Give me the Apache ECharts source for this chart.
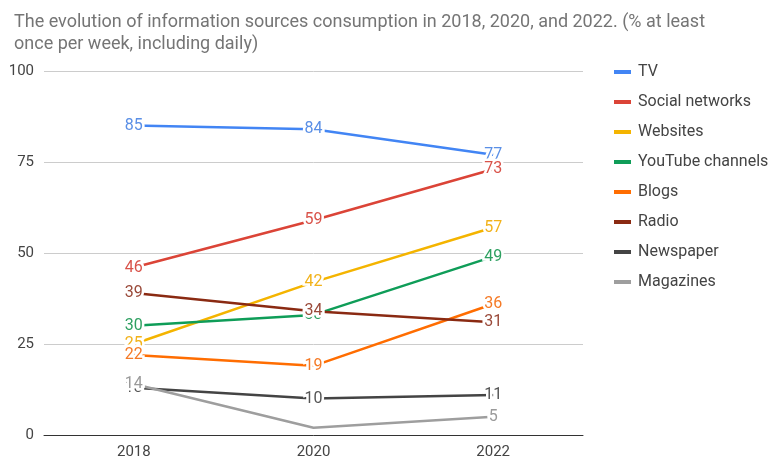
<!DOCTYPE html>
<html>
<head>
<meta charset="utf-8">
<script src="https://cdn.jsdelivr.net/npm/echarts@6/dist/echarts.min.js"></script>
<style>
  html, body { margin: 0; padding: 0; background: #fff; }
  #chart { width: 771px; height: 462px; }
</style>
</head>
<body>
<div id="chart"></div>
<script>
// Survey years on the x axis
const years = ['2018', '2020', '2022'];

// Share of respondents (%) using each source at least once per week
const tv = [85, 84, 77];
const socialNetworks = [46, 59, 73];
const websites = [25, 42, 57];
const youtubeChannels = [30, 33, 49];
const blogs = [22, 19, 36];
const radio = [39, 34, 31];
const newspaper = [13, 10, 11];
const magazines = [14, 2, 5];

// Value labels that are left out because they collide with the axis line
const hiddenLabels = { 'Magazines': [1] };

const seriesDefs = [
  { name: 'TV', data: tv, color: '#4285F4', label: '#5a8fe6' },
  { name: 'Social networks', data: socialNetworks, color: '#DB4437', label: '#d9534a' },
  { name: 'Websites', data: websites, color: '#F4B400', label: '#f2b21a' },
  { name: 'YouTube channels', data: youtubeChannels, color: '#0F9D58', label: '#2ea061' },
  { name: 'Blogs', data: blogs, color: '#FF6D01', label: '#f57a26' },
  { name: 'Radio', data: radio, color: '#8A2A12', label: '#9a4a3a' },
  { name: 'Newspaper', data: newspaper, color: '#444444', label: '#555555' },
  { name: 'Magazines', data: magazines, color: '#9E9E9E', label: '#9a9a9a' }
];

const chart = echarts.init(document.getElementById('chart'), null, { renderer: 'canvas' });

const series = seriesDefs.map(s => ({
  name: s.name,
  type: 'line',
  data: s.data.map((v, i) => {
    const hide = (hiddenLabels[s.name] || []).includes(i);
    return hide ? { value: v, label: { show: false } } : v;
  }),
  showSymbol: true,
  symbol: 'circle',
  symbolSize: 0,
  lineStyle: { color: s.color, width: 2.5 },
  itemStyle: { color: s.color },
  label: {
    show: true,
    position: 'inside',
    offset: [0, 1],
    color: s.label,
    fontFamily: 'Roboto',
    fontSize: 16,
    textBorderColor: '#fff',
    textBorderWidth: 5
  },
  labelLayout: { hideOverlap: false },
  emphasis: { disabled: true },
  z: 2
}));

chart.setOption({
  animation: false,
  backgroundColor: '#fff',
  title: {
    text: 'The evolution of information sources consumption in 2018, 2020, and 2022. (% at least\nonce per week, including daily)',
    left: 9,
    top: 6,
    textStyle: {
      fontFamily: 'Roboto',
      fontSize: 18,
      fontWeight: 'normal',
      color: '#757575',
      lineHeight: 22
    }
  },
  legend: {
    orient: 'vertical',
    left: 609,
    top: 59,
    icon: 'rect',
    itemWidth: 17,
    itemHeight: 4,
    itemGap: 14,
    data: seriesDefs.map(s => ({ name: s.name, itemStyle: { color: s.color, opacity: 1 } })),
    textStyle: {
      fontFamily: 'Roboto',
      fontSize: 16,
      color: '#444',
      lineHeight: 16,
      padding: [0, 0, 0, 2]
    }
  },
  grid: {
    left: 44,
    right: 188,
    top: 71,
    bottom: 27,
    containLabel: false
  },
  xAxis: {
    type: 'category',
    data: years,
    boundaryGap: true,
    axisLine: { show: true, lineStyle: { color: '#333', width: 1 } },
    axisTick: { show: false },
    axisLabel: {
      fontFamily: 'Roboto',
      fontSize: 15,
      color: '#444',
      margin: 10
    }
  },
  yAxis: {
    type: 'value',
    min: 0,
    max: 100,
    interval: 25,
    axisLine: { show: false },
    axisTick: { show: false },
    splitLine: { lineStyle: { color: '#cccccc', width: 1 } },
    axisLabel: {
      fontFamily: 'Roboto',
      fontSize: 15,
      color: '#444',
      margin: 10
    }
  },
  series: series
});
</script>
</body>
</html>
